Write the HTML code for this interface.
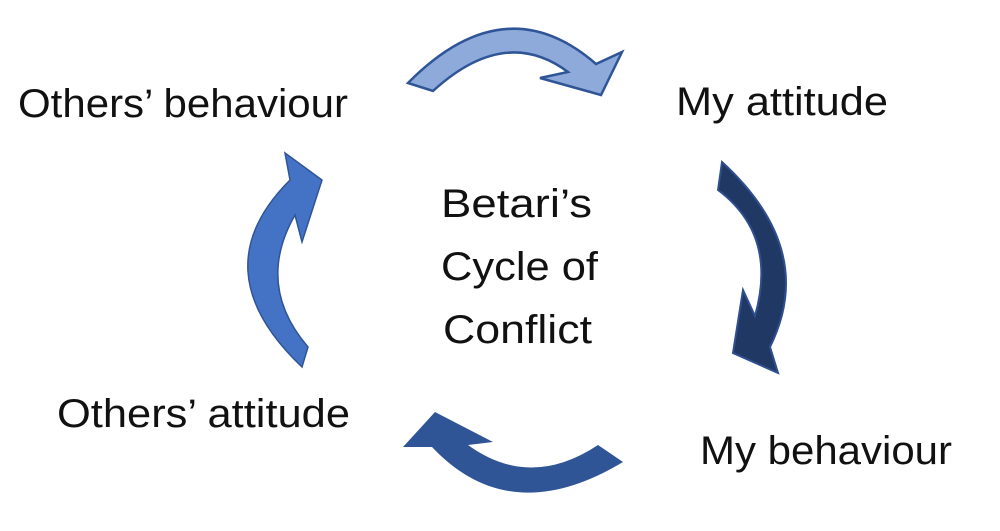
<!DOCTYPE html>
<html><head><style>
html,body{margin:0;padding:0;background:#fff;}
svg{display:block;}
text{font-family:"Liberation Sans",sans-serif;font-size:40px;fill:#111;}
</style></head><body>
<svg width="1000" height="531" viewBox="0 0 1000 531">
<path d="M433,91 Q505,25 568,72 L540,78 L601,95 L622,52 L596,64 Q505,-15 408,83 Z" fill="#8eaadb" stroke="#2f5597" stroke-width="2.5" stroke-linejoin="miter"/>
<path d="M722,162 Q818,250 770,347 L778,373 L733,353 L743,290 L755,316 Q778,235 718,190 Z" fill="#203864" stroke="#2f4f8f" stroke-width="2"/>
<path d="M598,445 Q530,490 468,445 L493,442 L435,412 L403,447 L432,447 Q510,530 623,462 Z" fill="#2f5597"/>
<path d="M308,347 Q255,285 295,215 L302,242 L322,180 L285,153 L290,180 Q200,270 302,367 Z" fill="#4472c4" stroke="#2f5597" stroke-width="1.5"/>
<text x="18" y="117" textLength="330" lengthAdjust="spacingAndGlyphs">Others’ behaviour</text>
<text x="676" y="115" textLength="212" lengthAdjust="spacingAndGlyphs">My attitude</text>
<text x="441" y="217" font-size="42" textLength="151" lengthAdjust="spacingAndGlyphs">Betari’s</text>
<text x="441" y="280" font-size="42" textLength="157" lengthAdjust="spacingAndGlyphs">Cycle of</text>
<text x="443" y="343" font-size="42" textLength="149" lengthAdjust="spacingAndGlyphs">Conflict</text>
<text x="57" y="427" textLength="293" lengthAdjust="spacingAndGlyphs">Others’ attitude</text>
<text x="700" y="464" textLength="252" lengthAdjust="spacingAndGlyphs">My behaviour</text>
</svg>
</body></html>
